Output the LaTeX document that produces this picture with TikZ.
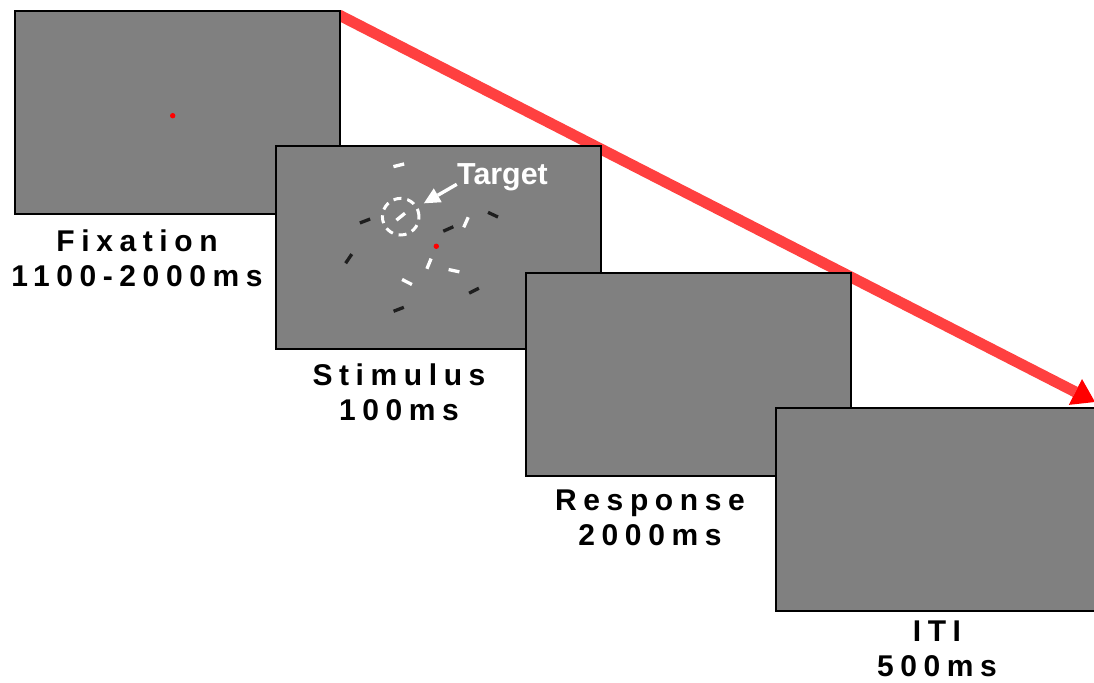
\documentclass[tikz,border=0pt]{standalone}
\usepackage{fontspec}
\setmainfont{Liberation Sans}
\usetikzlibrary{arrows.meta}
\definecolor{shaftred}{RGB}{255,64,64}
\definecolor{panelgray}{RGB}{128,128,128}
\definecolor{darkbar}{RGB}{30,30,30}
\tikzset{
  % a display screen
  panel/.style  = {draw=black, fill=panelgray, line width=0.9pt, anchor=north west,
                   minimum width=162.5pt, minimum height=101.5pt, inner sep=0pt},
  % the caption under a screen
  lbl/.style    = {font=\fontsize{15}{17.5}\selectfont\bfseries\addfontfeature{LetterSpace=22},
                   align=center, anchor=north, inner sep=0pt},
  % the fixation point
  fixdot/.style = {circle, fill=red, minimum size=2.7pt, inner sep=0pt},
  % a white / a black line element
  wbar/.style   = {fill=white, minimum width=5.5pt, minimum height=1.65pt, inner sep=0pt},
  kbar/.style   = {wbar, fill=darkbar},
  % the time line
  timearr/.style = {draw=shaftred, line width=5.5pt,
                    -{Triangle[length=11pt, width=14.5pt, line width=0pt, color=red]}},
  % the pointer to the target
  tarr/.style   = {draw=white, line width=1.7pt, shorten >=3.5pt,
                   -{Triangle[length=8pt, width=8pt, line width=0pt]}},
}

\begin{document}
\begin{tikzpicture}[x=0.5pt, y=-0.5pt]
  \useasboundingbox (0,0) rectangle (1094,683);
  % time line, behind the screens
  \coordinate (tstart) at (339,15);
  \coordinate (tend)   at (1095,402);
  \draw[timearr] (tstart) -- (tend);
  % screens
  \node[panel] (fix)  at (14,10)    {};
  \node[panel] (stim) at (275,145)  {};
  \node[panel] (resp) at (525,272.5) {};
  \node[panel] (iti)  at (775,407)  {};
  \node[fixdot] (fdot) at (172.7,115.7) {};
  \node[fixdot] (sdot) at (436.3,246.3) {};
  % line elements
  \node[wbar, rotate=14]  (w1) at (398.8,165.3) {};
  \node[wbar, rotate=39]  (w2) at (400.7,216.7) {};
  \node[wbar, rotate=66]  (w3) at (466.0,222.3) {};
  \node[wbar, rotate=68]  (w4) at (429.0,263.7) {};
  \node[wbar, rotate=-12] (w5) at (454.0,270.7) {};
  \node[wbar, rotate=-27] (w6) at (407.0,282.0) {};
  \node[kbar, rotate=21]  (k1) at (365.0,221.0) {};
  \node[kbar, rotate=-25] (k2) at (493.0,214.7) {};
  \node[kbar, rotate=24]  (k3) at (448.3,229.0) {};
  \node[kbar, rotate=56]  (k4) at (348.7,258.7) {};
  \node[kbar, rotate=27]  (k5) at (474.0,290.7) {};
  \node[kbar, rotate=21]  (k6) at (398.7,309.3) {};
  % target marker
  \node[circle, draw=white, line width=1.5pt, dash pattern=on 4pt off 3pt,
        minimum size=18.3pt, inner sep=0pt] (tcirc) at (400.7,216.7) {};
  \node[font=\fontsize{15.2}{18}\selectfont\bfseries, text=white, anchor=base,
        inner sep=0pt] (tgt) at (502.5,184.3) {Target};
  \draw[tarr] (tgt.base west) -- (tcirc);
  % captions
  \node[lbl] (lfix)  at (137,229) {Fixation\\1100-2000ms};
  \node[lbl] (lstim) at (399,363) {Stimulus\\100ms};
  \node[lbl] (lresp) at (650,489) {Response\\2000ms};
  \node[lbl] (liti)  at (937,620) {ITI\\500ms};
\end{tikzpicture}
\end{document}
